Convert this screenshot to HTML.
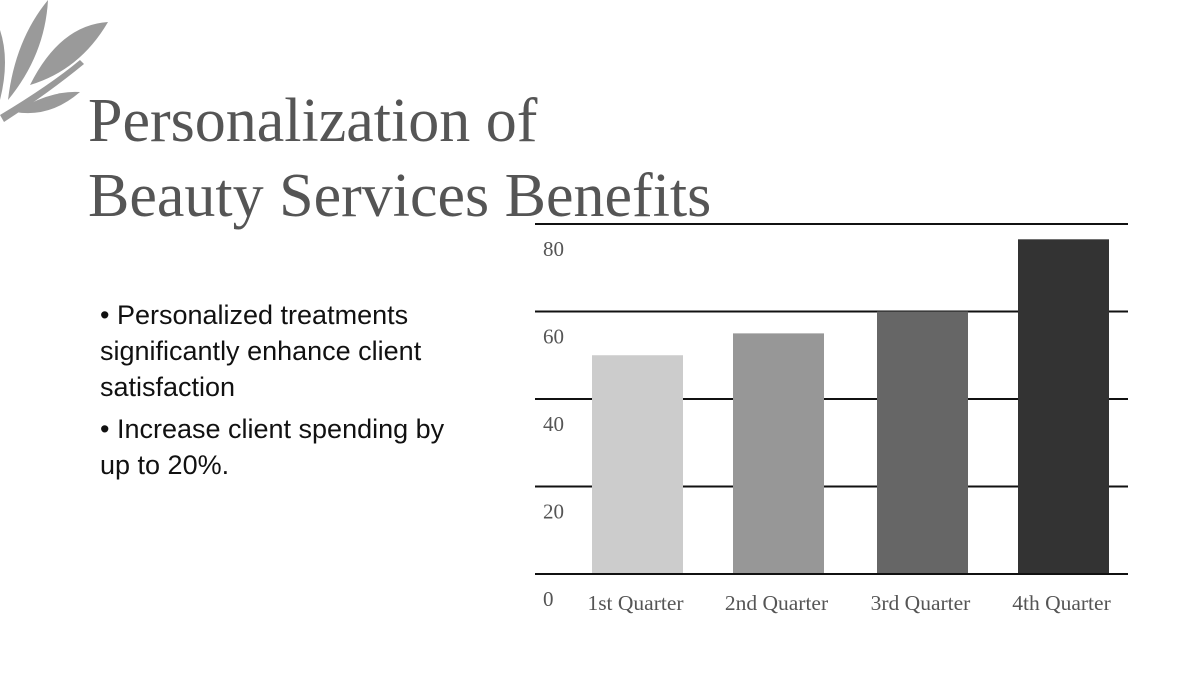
<!DOCTYPE html>
<html><head><meta charset="utf-8"><style>
body{margin:0;width:1200px;height:675px;background:#fff;overflow:hidden;position:relative;font-family:"Liberation Sans",sans-serif}
.t{position:absolute;left:88px;top:84px;font-family:"Liberation Serif",serif;font-size:62px;line-height:75px;color:#555;white-space:nowrap}
.b{position:absolute;left:100px;top:297px;font-size:27px;line-height:36px;color:#111;width:362px}
</style></head><body>
<svg style="position:absolute;left:0;top:0" width="120" height="130">
<g fill="#9a9a9a">
<path d="M0 115 Q50 85 80 60 L84 64 Q50 92 4 122Z"/>
<path d="M0 30 Q10 60 0 100Z"/>
<path d="M8 100 Q15 40 48 0 Q45 55 8 100Z"/>
<path d="M30 85 Q60 25 108 22 Q80 70 30 85Z"/>
<path d="M15 112 Q50 90 80 92 Q50 118 15 112Z"/>
</g></svg>
<div class="t">Personalization of<br>Beauty Services Benefits</div>
<div class="b">
<div>• Personalized treatments significantly enhance client satisfaction</div>
<div style="margin-top:6px">• Increase client spending by up to 20%.</div>
</div>
<svg id="chart" style="position:absolute;left:0;top:0" width="1200" height="675"></svg>
<script>
const categories=["1st Quarter","2nd Quarter","3rd Quarter","4th Quarter"];
const values=[50,55,60,76.5];
const ticks=[0,20,40,60,80];
const colors=["#cccccc","#979797","#666666","#333333"];
const svg=document.getElementById('chart');
const NS="http://www.w3.org/2000/svg";
const y0=574,yTop=224,vMax=80;
const y=v=>y0-(v/vMax)*(y0-yTop);
const xL=567,band=141;
const x=i=>xL+band*i+band/2+(i>=2?3:0);
function mk(t,a){const e=document.createElementNS(NS,t);for(const k in a)e.setAttribute(k,a[k]);svg.appendChild(e);return e;}
ticks.forEach(t=>{
 const l=mk('line',{x1:535,x2:1128,y1:y(t),y2:y(t),stroke:'#111','stroke-width':2});
 
 
 const tx=mk('text',{x:543,y:y(t)+32,'font-size':21,fill:'#555','font-family':'Liberation Serif, serif'});
 tx.textContent=t;
 
 
});
values.forEach((v,i)=>{
 const r=mk('rect',{x:x(i)-45.5,y:y(v),width:91,height:y0-y(v)-1,fill:colors[i]});
 
 
 const tx=mk('text',{x:x(i)-2,y:610,'font-size':21.5,fill:'#555','text-anchor':'middle','font-family':'Liberation Serif, serif'});
 tx.textContent=categories[i];
 
 
});
</script>
</body></html>
